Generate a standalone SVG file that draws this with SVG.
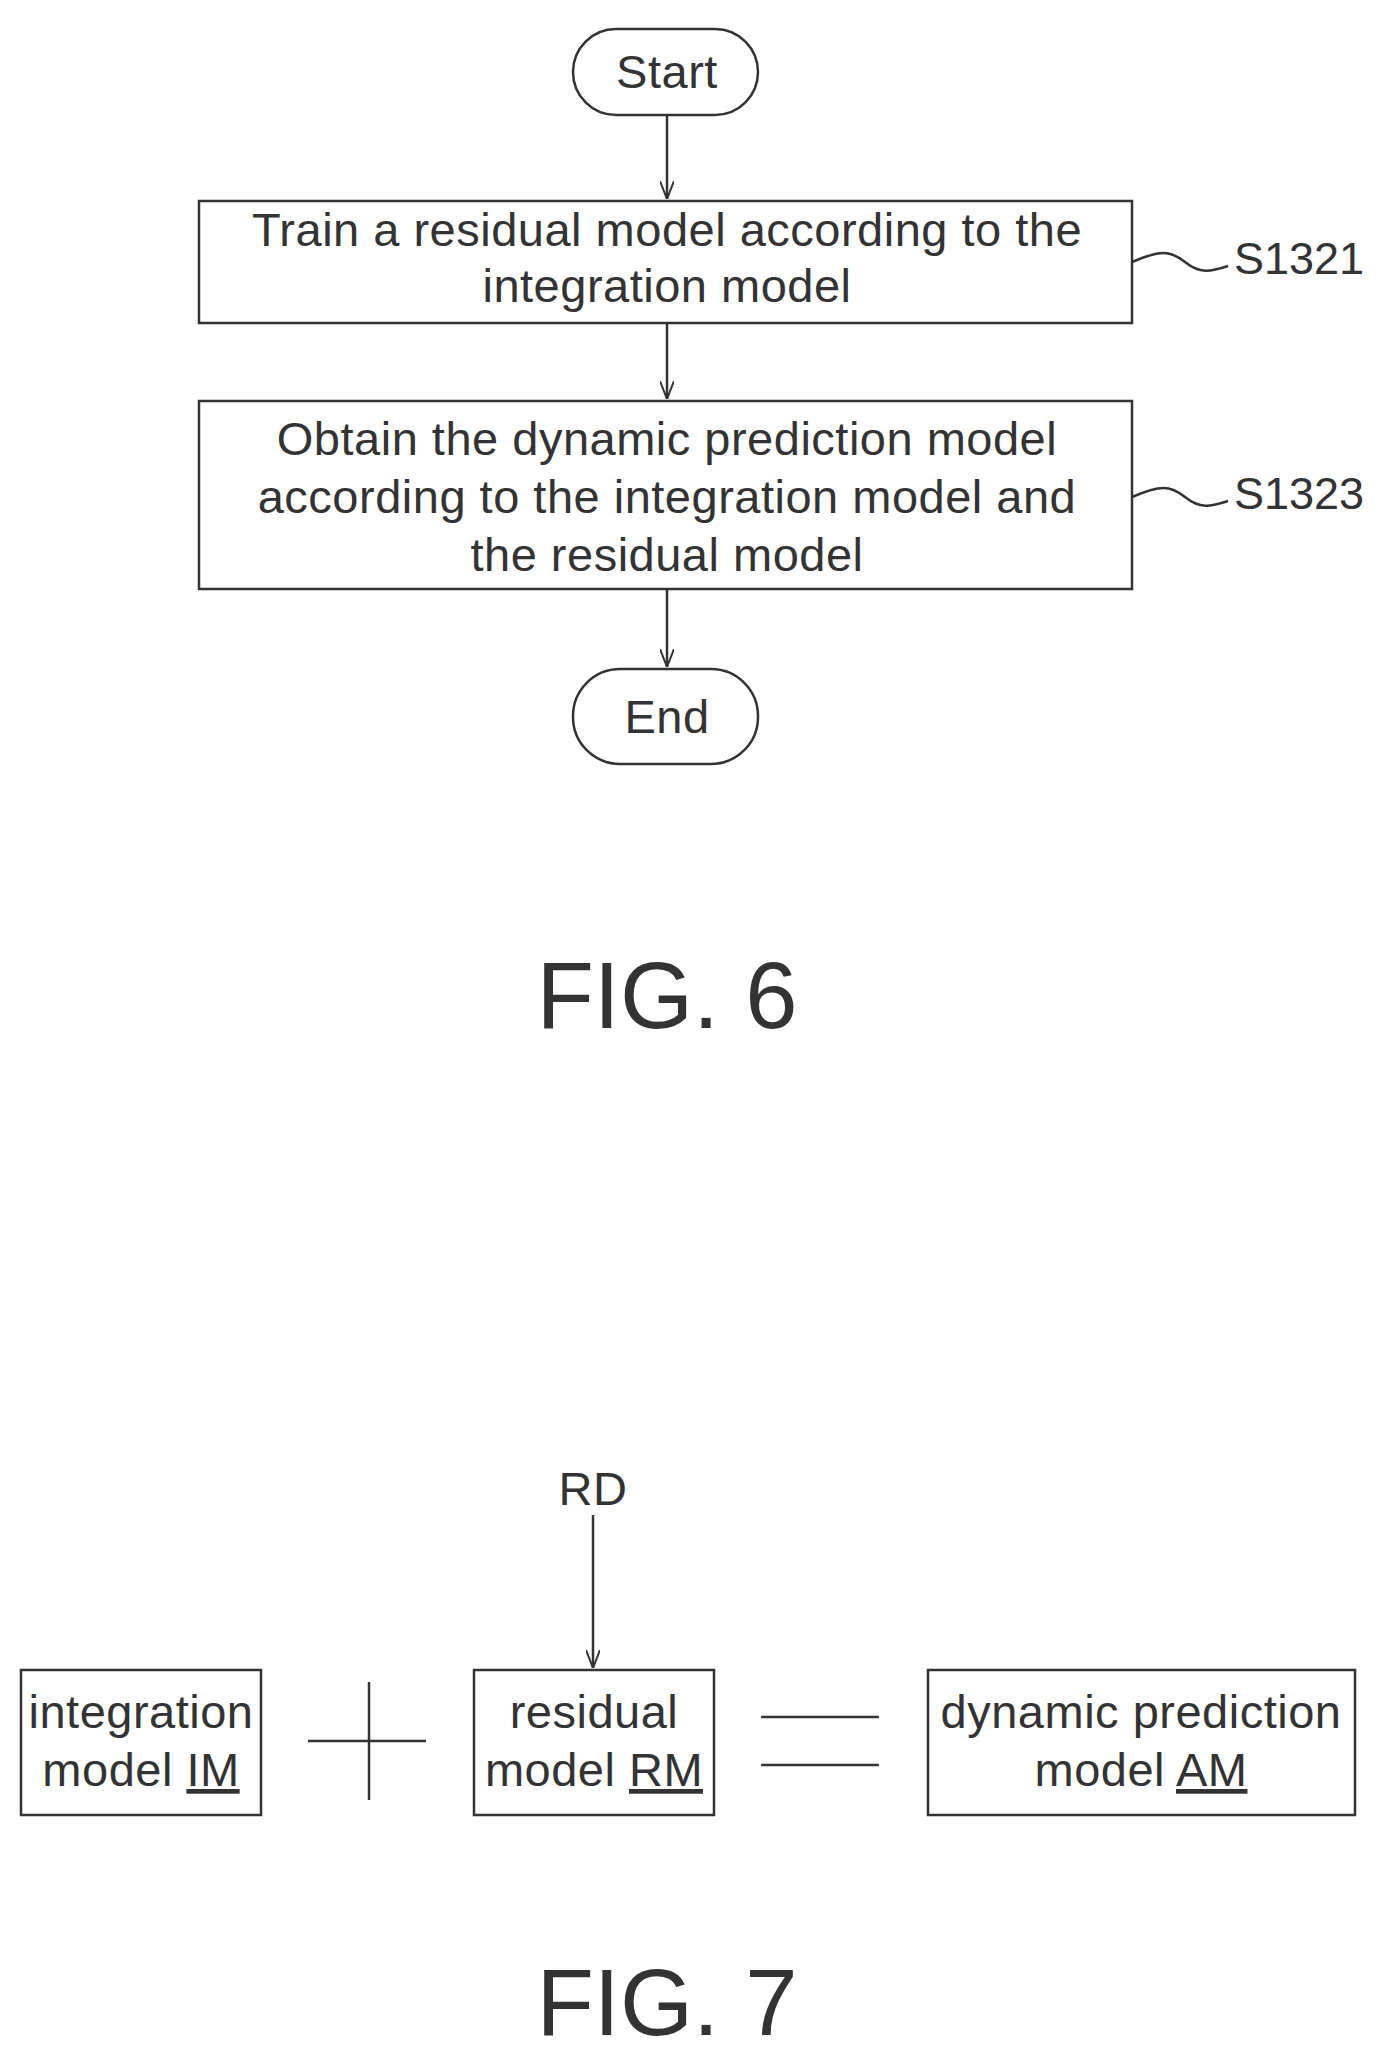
<svg xmlns="http://www.w3.org/2000/svg" width="1391" height="2052" viewBox="0 0 1391 2052">
<style>
.s{fill:none;stroke:#333;stroke-width:2.5}
.t{font-family:"Liberation Sans",Arial,sans-serif;font-size:47px;fill:#333;text-anchor:middle;letter-spacing:0.5px}
.l{font-family:"Liberation Sans",Arial,sans-serif;font-size:45px;fill:#333;text-anchor:start}
.f{font-family:"Liberation Sans",Arial,sans-serif;font-size:94px;fill:#333;text-anchor:middle}
.u{text-decoration:underline}
</style>
<defs><marker id="a" viewBox="0 0 18 14" refX="18" refY="7" markerWidth="18" markerHeight="14" orient="auto" markerUnits="userSpaceOnUse"><path d="M0,0 L18,7 L0,14" fill="none" stroke="#333" stroke-width="2"/></marker></defs>
<g id="connectors">
<line class="s" x1="667" y1="115" x2="667" y2="199" marker-end="url(#a)"/>
<line class="s" x1="667" y1="323" x2="667" y2="399" marker-end="url(#a)"/>
<line class="s" x1="667" y1="589" x2="667" y2="667" marker-end="url(#a)"/>
<path class="s" d="M1132,262 C1160,250 1170,250 1185,262 C1200,274 1210,272 1228,266"/>
<path class="s" d="M1132,497 C1160,485 1170,485 1185,497 C1200,509 1210,507 1228,501"/>
<line class="s" x1="593" y1="1515" x2="593" y2="1668" marker-end="url(#a)"/>
</g>
<g id="start"><rect class="s" x="573" y="29" width="185" height="86" rx="43"/><text class="t" x="667" y="88">Start</text></g>
<g id="s1321"><rect class="s" x="199" y="201" width="933" height="122"/><text class="t" x="667" y="246">Train a residual model according to the</text><text class="t" x="667" y="302">integration model</text><text class="l" x="1234" y="274">S1321</text></g>
<g id="s1323"><rect class="s" x="199" y="401" width="933" height="188"/><text class="t" x="667" y="455">Obtain the dynamic prediction model</text><text class="t" x="667" y="513">according to the integration model  and</text><text class="t" x="667" y="571">the residual model</text><text class="l" x="1234" y="509">S1323</text></g>
<g id="end"><rect class="s" x="573" y="669" width="185" height="95" rx="47"/><text class="t" x="667" y="733">End</text></g>
<text class="f" x="667" y="1028">FIG. 6</text>
<text class="t" x="593" y="1505">RD</text>
<g id="im"><rect class="s" x="21" y="1670" width="240" height="145"/><text class="t" x="141" y="1728">integration</text><text class="t" x="141" y="1786">model <tspan class="u">IM</tspan></text></g>
<g id="plus"><line class="s" x1="308" y1="1741" x2="426" y2="1741"/><line class="s" x1="369" y1="1682" x2="369" y2="1800"/></g>
<g id="rm"><rect class="s" x="474" y="1670" width="240" height="145"/><text class="t" x="594" y="1728">residual</text><text class="t" x="594" y="1786">model <tspan class="u">RM</tspan></text></g>
<g id="eq"><line class="s" x1="761" y1="1717" x2="879" y2="1717"/><line class="s" x1="761" y1="1765" x2="879" y2="1765"/></g>
<g id="am"><rect class="s" x="928" y="1670" width="427" height="145"/><text class="t" x="1141" y="1728">dynamic prediction</text><text class="t" x="1141" y="1786">model <tspan class="u">AM</tspan></text></g>
<text class="f" x="667" y="2035">FIG. 7</text>
</svg>
